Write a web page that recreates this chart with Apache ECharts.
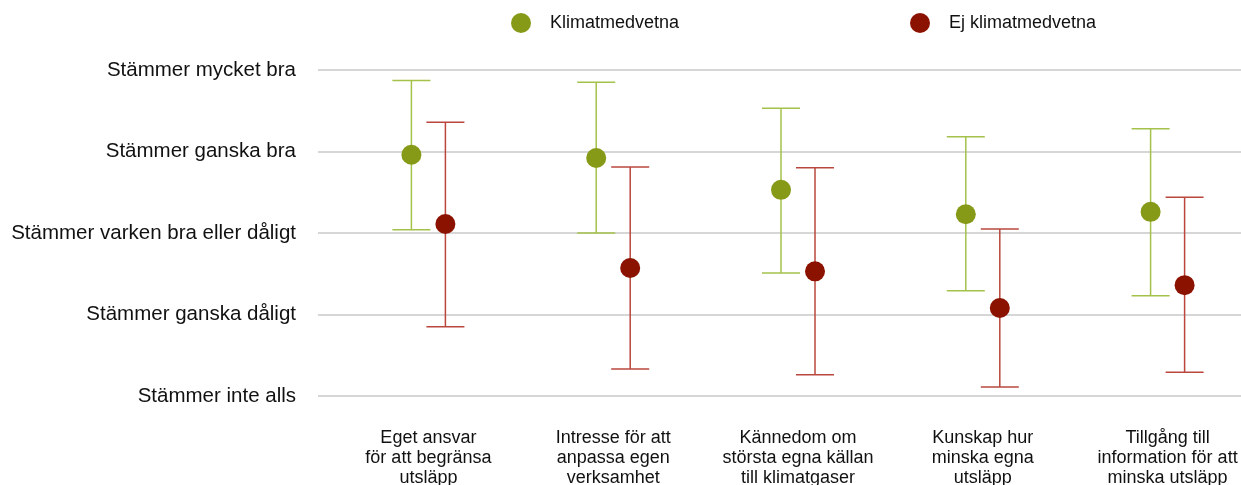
<!DOCTYPE html>
<html>
<head>
<meta charset="utf-8">
<script src="https://cdn.jsdelivr.net/npm/echarts@6/dist/echarts.min.js"></script>
<style>
  html, body { margin: 0; padding: 0; background: #fff; }
  #chart { width: 1241px; height: 485px; }
</style>
</head>
<body>
<div id="chart"></div>
<script>
// Statements rated on a 1–5 agreement scale, mean with interval per group
const categories = [
  'Eget ansvar\nför att begränsa\nutsläpp',
  'Intresse för att\nanpassa egen\nverksamhet',
  'Kännedom om\nstörsta egna källan\ntill klimatgaser',
  'Kunskap hur\nminska egna\nutsläpp',
  'Tillgång till\ninformation för att\nminska utsläpp'
];
const scaleLabels = [
  'Stämmer inte alls',
  'Stämmer ganska dåligt',
  'Stämmer varken bra eller dåligt',
  'Stämmer ganska bra',
  'Stämmer mycket bra'
];

const awareName = 'Klimatmedvetna';
const awareMean = [3.96, 3.92, 3.53, 3.23, 3.26];
const awareLow  = [3.04, 3.00, 2.51, 2.29, 2.23];
const awareHigh = [4.87, 4.85, 4.53, 4.18, 4.28];

const otherName = 'Ej klimatmedvetna';
const otherMean = [3.11, 2.57, 2.53, 2.08, 2.36];
const otherLow  = [1.85, 1.33, 1.26, 1.11, 1.29];
const otherHigh = [4.36, 3.81, 3.80, 3.05, 3.44];

const FONT = '"Liberation Sans", Arial, sans-serif';

function rows(mean, low, high) {
  return categories.map((c, i) => [i, mean[i], low[i], high[i]]);
}

// Error bar with caps plus a filled dot, shifted sideways within the category
function makeRenderer(offset, barColor, dotColor) {
  return function (params, api) {
    const i = api.value(0);
    const mid = api.coord([i, api.value(1)]);
    const lo = api.coord([i, api.value(2)]);
    const hi = api.coord([i, api.value(3)]);
    const x = mid[0] + offset;
    const cap = 19;
    const lineStyle = { stroke: barColor, lineWidth: 1.5 };
    return {
      type: 'group',
      children: [
        { type: 'line', shape: { x1: x, y1: hi[1], x2: x, y2: lo[1] }, style: lineStyle },
        { type: 'line', shape: { x1: x - cap, y1: hi[1], x2: x + cap, y2: hi[1] }, style: lineStyle },
        { type: 'line', shape: { x1: x - cap, y1: lo[1], x2: x + cap, y2: lo[1] }, style: lineStyle },
        { type: 'circle', shape: { cx: x, cy: mid[1], r: 10 }, style: { fill: dotColor } }
      ]
    };
  };
}

const chart = echarts.init(document.getElementById('chart'), null, { renderer: 'canvas' });

const legendBase = {
  top: 8,
  itemWidth: 20,
  itemHeight: 20,
  icon: 'circle',
  selectedMode: false,
  textStyle: { fontFamily: FONT, fontSize: 18, color: '#111', padding: [0, 0, 0, 14] }
};

chart.setOption({
  animation: false,
  backgroundColor: '#fff',
  legend: [
    Object.assign({}, legendBase, { left: 506, data: [awareName] }),
    Object.assign({}, legendBase, { left: 905, data: [otherName] })
  ],
  grid: [
    { left: 318, right: 0, top: 70, height: 326, outerBoundsMode: 'none' },
    { left: 336, width: 924, top: 70, height: 326, outerBoundsMode: 'none' }
  ],
  xAxis: [
    { gridIndex: 0, type: 'value', show: false, min: 0, max: 1 },
    {
      gridIndex: 1,
      type: 'category',
      data: categories,
      boundaryGap: true,
      axisLine: { show: false },
      axisTick: { show: false },
      splitLine: { show: false },
      axisLabel: {
        interval: 0,
        margin: 32,
        fontFamily: FONT,
        fontSize: 18,
        lineHeight: 20,
        color: '#111',
        align: 'center'
      }
    }
  ],
  yAxis: [
    {
      gridIndex: 0,
      type: 'value',
      min: 1,
      max: 5,
      interval: 1,
      axisLine: { show: false },
      axisTick: { show: false },
      splitLine: { show: true, lineStyle: { color: '#c8c8c8', width: 1.5 } },
      axisLabel: {
        margin: 22,
        fontFamily: FONT,
        fontSize: 20.5,
        color: '#111',
        padding: [4, 0, 0, 0],
        formatter: v => scaleLabels[Math.round(v) - 1] || ''
      }
    },
    { gridIndex: 1, type: 'value', min: 1, max: 5, show: false }
  ],
  series: [
    {
      name: awareName,
      type: 'custom',
      xAxisIndex: 1,
      yAxisIndex: 1,
      itemStyle: { color: '#869a18' },
      encode: { x: 0, y: [1, 2, 3] },
      renderItem: makeRenderer(-17, '#a4c24a', '#869a18'),
      data: rows(awareMean, awareLow, awareHigh),
      z: 2
    },
    {
      name: otherName,
      type: 'custom',
      xAxisIndex: 1,
      yAxisIndex: 1,
      itemStyle: { color: '#8c1200' },
      encode: { x: 0, y: [1, 2, 3] },
      renderItem: makeRenderer(17, '#b9473d', '#8c1200'),
      data: rows(otherMean, otherLow, otherHigh),
      z: 3
    }
  ]
});
</script>
</body>
</html>
